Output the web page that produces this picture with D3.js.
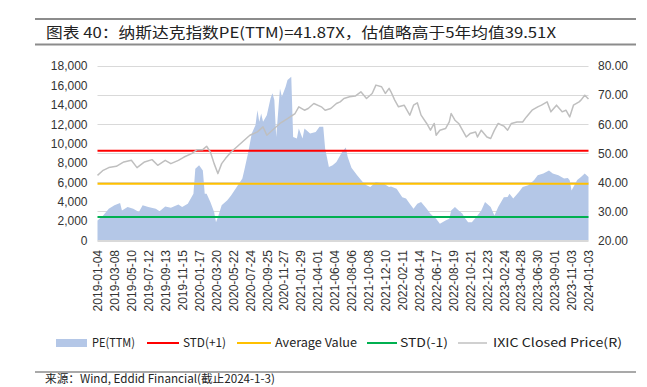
<!DOCTYPE html>
<html>
<head>
<meta charset="utf-8">
<script src="https://cdn.jsdelivr.net/npm/d3@7"></script>
<style>
  html, body { margin: 0; padding: 0; background: #fff; }
  svg { display: block; }
</style>
</head>
<body>
<svg id="chart" width="647" height="387"></svg>
<script>
// ---------------- DATA ----------------
const titleText = "图表 40：纳斯达克指数PE(TTM)=41.87X，估值略高于5年均值39.51X";
const sourceText = "来源：Wind, Eddid Financial(截止2024-1-3)";
const xTickLabels = ["2019-01-04","2019-03-08","2019-05-10","2019-07-12","2019-09-13","2019-11-15",
  "2020-01-17","2020-03-20","2020-05-22","2020-07-24","2020-09-25","2020-11-27",
  "2021-01-29","2021-04-01","2021-06-04","2021-08-06","2021-10-08","2021-12-10",
  "2022-02-11","2022-04-14","2022-06-17","2022-08-19","2022-10-21","2022-12-23",
  "2023-02-24","2023-04-28","2023-06-30","2023-09-01","2023-11-03","2024-01-03"];
const xTickIndex = [0,9,18,27,36,45,54,63,72,81,90,99,108,117,126,135,144,153,162,171,180,189,198,207,216,225,234,243,252,261];
const totalWeeks = 261;
const leftTicks = [0,2000,4000,6000,8000,10000,12000,14000,16000,18000];
const rightTicks = [20,30,40,50,60,70,80];

// PE(TTM) (weekly index -> value, right axis)
const peWeeks = [0,3,6,9,12,13,16,19,22,24,27,31,33,36,39,43,45,48,51,52,54,56,57,58,60,62,63,64,66,69,71,74,77,78,80,82,84,85,86,87,88,90,92,93,94,95,97,98,100,101,103,104,106,107,109,110,113,116,118,120,121,123,125,127,130,132,133,135,138,141,143,145,148,152,155,156,159,162,164,166,168,170,172,175,177,179,180,182,185,187,188,190,192,194,195,197,199,202,204,206,209,211,213,216,218,219,221,224,226,229,232,234,237,240,242,245,248,250,251,252,255,257,259,261];
const peValues = [26.9,28.6,30.9,32.1,32.9,30.3,31.5,30.9,29.8,32.1,31.5,30.9,30.1,31.7,31.3,32.4,31.5,32.6,36.1,44.7,45.9,44.1,36.1,36.1,33.2,29.8,26.3,28.0,32.1,33.8,35.5,38.4,41.3,44.1,49.9,56.8,59.7,64.8,60.8,63.7,60.8,63.1,68.9,70.6,68.3,55.6,72.3,69.4,72.9,75.2,76.3,55.6,55.1,58.5,55.1,58.5,56.8,57.3,59.1,59.1,51.6,45.3,45.9,47.0,50.4,52.0,48.7,45.0,42.4,40.1,39.0,38.4,40.1,39.6,38.4,38.6,37.8,34.9,34.4,32.6,30.9,32.6,33.2,30.9,29.2,28.0,27.5,25.8,26.9,27.5,30.3,31.5,30.3,29.2,28.0,26.3,26.3,28.6,30.3,33.2,31.5,28.6,31.5,34.9,35.0,36.1,34.4,36.7,38.4,39.0,40.7,42.4,43.0,44.1,43.0,42.4,41.3,41.5,40.7,37.2,40.8,41.8,43.0,41.87];

// IXIC Closed Price (weekly index -> value, left axis)
const ixicWeeks = [0,3,6,10,14,18,21,25,29,32,36,39,43,46,50,53,56,58,60,62,64,66,68,71,74,78,81,85,88,90,94,97,101,105,107,110,112,115,119,121,124,127,129,131,134,137,140,143,146,148,151,153,155,156,158,160,163,166,168,170,172,175,177,179,180,182,185,187,188,190,192,194,196,198,201,202,204,207,209,211,213,216,218,220,223,226,228,231,234,236,239,241,244,247,249,251,253,256,257,259,261];
const ixicValues = [6720,7240,7520,7650,8100,8270,7520,8100,8340,7760,8270,7930,8270,8610,8960,9370,9370,9720,9130,7930,6900,7930,8450,9130,9650,10340,10860,11200,11720,10860,11550,12070,12580,13100,13790,13440,13620,14130,13790,13440,13620,14130,14300,14650,14820,14900,15340,14650,15170,16030,15860,15170,15690,15340,14480,13790,13960,12930,13960,14200,12930,12070,11380,12070,10860,11380,11550,12230,13100,12410,12070,11380,10680,11030,11200,10680,11380,10680,10520,11380,12070,11800,11380,12070,12230,12230,12750,13440,13790,13960,14300,13270,13960,13270,13440,12750,13960,14300,14480,14990,14590];

// Standard deviation band values (right axis)
const stdPlus = 50.9;
const avgValue = 39.51;
const stdMinus = 28.1;

// ---------------- DRAW ----------------
const svg = d3.select("#chart");
const plot = { left: 97.5, right: 588.5, top: 66, bottom: 240.5 };

const x = d3.scaleLinear().domain([0, totalWeeks]).range([plot.left, plot.right]);
const yL = d3.scaleLinear().domain([0, 18000]).range([plot.bottom, plot.top]);
const yR = d3.scaleLinear().domain([20, 80]).range([plot.bottom, plot.top]);

const cjk = "'Noto Sans CJK SC', 'Noto Sans', sans-serif";
const sans = "'Liberation Sans', Arial, sans-serif";

// Title block
svg.append("line").attr("x1", 35).attr("x2", 636).attr("y1", 19).attr("y2", 19)
  .attr("stroke", "#8c8c8c").attr("stroke-width", 2);
svg.append("line").attr("x1", 35).attr("x2", 636).attr("y1", 44.5).attr("y2", 44.5)
  .attr("stroke", "#8c8c8c").attr("stroke-width", 2);
svg.append("text").attr("x", 46).attr("y", 38)
  .attr("font-family", cjk).attr("font-size", 14.5).attr("fill", "#222")
  .attr("textLength", 510).attr("lengthAdjust", "spacingAndGlyphs")
  .text(titleText);

// Gridlines (right axis ticks)
svg.append("g").selectAll("line").data(rightTicks).join("line")
  .attr("x1", plot.left).attr("x2", plot.right)
  .attr("y1", d => Math.round(yR(d)) + 0.5).attr("y2", d => Math.round(yR(d)) + 0.5)
  .attr("stroke", "#d9d9d9").attr("stroke-width", 1);

// PE area
const area = d3.area()
  .x((d, i) => x(peWeeks[i]))
  .y0(plot.bottom)
  .y1(d => yR(d));
svg.append("path").datum(peValues).attr("d", area).attr("fill", "#b4c7e7");

// Bottom axis line
svg.append("line").attr("x1", plot.left).attr("x2", plot.right)
  .attr("y1", plot.bottom).attr("y2", plot.bottom)
  .attr("stroke", "#d9d9d9").attr("stroke-width", 1);

// Reference lines
const refs = [
  { v: stdPlus, c: "#ff0000" },
  { v: avgValue, c: "#ffc000" },
  { v: stdMinus, c: "#00b050" }
];
svg.append("g").selectAll("line").data(refs).join("line")
  .attr("x1", plot.left).attr("x2", plot.right)
  .attr("y1", d => yR(d.v)).attr("y2", d => yR(d.v))
  .attr("stroke", d => d.c).attr("stroke-width", 2);

// IXIC line
const line = d3.line()
  .x((d, i) => x(ixicWeeks[i]))
  .y(d => yL(d));
svg.append("path").datum(ixicValues).attr("d", line)
  .attr("fill", "none").attr("stroke", "#bfbfbf").attr("stroke-width", 1.5)
  .attr("stroke-linejoin", "round");

// Left axis
const leftAxis = d3.axisLeft(yL).tickValues(leftTicks).tickSize(0).tickPadding(0)
  .tickFormat(d3.format(","));
const gL = svg.append("g").attr("transform", `translate(87.5,0)`).call(leftAxis);
gL.select(".domain").remove();
gL.selectAll("text").attr("font-family", sans).attr("font-size", 12).attr("fill", "#333");

// Right axis
const rightAxis = d3.axisRight(yR).tickValues(rightTicks).tickSize(0).tickPadding(0)
  .tickFormat(d3.format(".2f"));
const gR = svg.append("g").attr("transform", `translate(598,0)`).call(rightAxis);
gR.select(".domain").remove();
gR.selectAll("text").attr("font-family", sans).attr("font-size", 12).attr("fill", "#333");

// X axis labels
const xAxis = d3.axisBottom(x).tickValues(xTickIndex).tickSize(0).tickPadding(0)
  .tickFormat((d, i) => xTickLabels[i]);
const gX = svg.append("g").attr("transform", `translate(0,250)`).call(xAxis);
gX.select(".domain").remove();
gX.selectAll("text")
  .attr("font-family", sans).attr("font-size", 12).attr("fill", "#333")
  .attr("text-anchor", "end")
  .attr("transform", "rotate(-90)")
  .attr("x", 0).attr("y", 0).attr("dy", "0.35em");

// Legend
const legend = [
  { type: "rect", c: "#b4c7e7", x0: 56, x1: 87, label: "PE(TTM)", tx: 92, tw: 43 },
  { type: "line", c: "#ff0000", x0: 147, x1: 179, label: "STD(+1)", tx: 183, tw: 43 },
  { type: "line", c: "#ffc000", x0: 237, x1: 271, label: "Average Value", tx: 275, tw: 82 },
  { type: "line", c: "#00b050", x0: 367, x1: 397, label: "STD(-1)", tx: 400, tw: 48 },
  { type: "line", c: "#d0d0d0", x0: 458, x1: 487, label: "IXIC Closed Price(R)", tx: 493, tw: 129 }
];
const ly = 343;
const lg = svg.append("g");
legend.forEach(d => {
  if (d.type === "rect") {
    lg.append("rect").attr("x", d.x0).attr("y", ly - 4).attr("width", d.x1 - d.x0).attr("height", 8)
      .attr("fill", d.c);
  } else {
    lg.append("line").attr("x1", d.x0).attr("x2", d.x1).attr("y1", ly).attr("y2", ly)
      .attr("stroke", d.c).attr("stroke-width", 2);
  }
  lg.append("text").attr("x", d.tx).attr("y", ly).attr("dy", "0.36em")
    .attr("font-family", cjk).attr("font-size", 12).attr("fill", "#222")
    .attr("textLength", d.tw).attr("lengthAdjust", "spacingAndGlyphs")
    .text(d.label);
});

// Footer
svg.append("line").attr("x1", 35).attr("x2", 636).attr("y1", 372).attr("y2", 372)
  .attr("stroke", "#8c8c8c").attr("stroke-width", 1.5);
svg.append("text").attr("x", 45).attr("y", 383)
  .attr("font-family", cjk).attr("font-size", 11.5).attr("fill", "#222")
  .attr("textLength", 230).attr("lengthAdjust", "spacingAndGlyphs")
  .text(sourceText);
</script>
</body>
</html>
